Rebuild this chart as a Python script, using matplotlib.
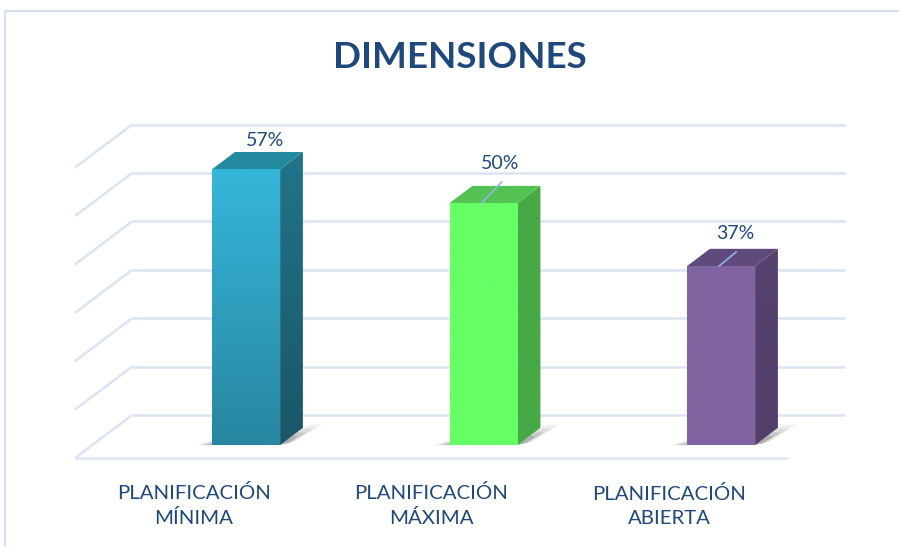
import numpy as np
import matplotlib
matplotlib.use("Agg")
import matplotlib.pyplot as plt
from matplotlib.patches import Polygon

# ---------------- data ----------------
categories = ["PLANIFICACIÓN\nMÍNIMA", "PLANIFICACIÓN\nMÁXIMA", "PLANIFICACIÓN\nABIERTA"]
values = [57, 50, 37]
value_labels = ["57%", "50%", "37%"]
title = "DIMENSIONES"
grid_values = [0, 10, 20, 30, 40, 50, 60]

# ---------------- style ----------------
front_top = ["#36B6DB", "#66FF66", "#8064A2"]
front_bot = ["#2886A0", "#66FF66", "#8064A2"]
side_top = ["#21748B", "#46A946", "#57426F"]
side_bot = ["#1A5666", "#46A946", "#523E69"]
top_col = ["#23899F", "#53C253", "#5F4A7C"]
text_col = "#1F497D"
grid_col = "#DAE4F3"
leader_col = "#8EB4E3"

plt.rcParams['font.family'] = ['Lato', 'DejaVu Sans']

W, H = 899, 547
fig = plt.figure(figsize=(W / 100, H / 100), dpi=100)
ax = fig.add_axes([0, 0, 1, 1])
ax.set_axis_off()

# scale: category units in x, percent units in y
PX_PER_CAT = 237.5
PX_PER_PCT = 4.84
X0_PX = 229.0      # pixel x of category 0 centre at depth 0
Y0_PX = 458.0      # pixel y (from top) of value 0 at depth 0
xlim = (-X0_PX / PX_PER_CAT, (W - X0_PX) / PX_PER_CAT)
ylim = (-(H - Y0_PX) / PX_PER_PCT, Y0_PX / PX_PER_PCT)

DX = 57 / PX_PER_CAT     # depth offset (full depth) in category units
DV = 43 / PX_PER_PCT     # depth offset (full depth) in percent units
BAR_W = 68 / PX_PER_CAT
D_FRONT, D_BACK = 0.3, 0.7
X_LEFT, X_RIGHT = -0.648, 2.354


def P(x, v, d):
    return (x + d * DX, v + d * DV)


def off(pt, dxp, dyp):
    """offset a data point by pixels (dy positive = up)"""
    return (pt[0] + dxp / PX_PER_CAT, pt[1] + dyp / PX_PER_PCT)


def px2data(px, py):
    return (xlim[0] + px / PX_PER_CAT, ylim[1] - py / PX_PER_PCT)


# border of chart area (light frame)
bx0, by0 = px2data(5, 11)
bx1, by1 = px2data(905, 560)
ax.plot([bx0, bx1], [by0, by0], color="#D6E1EF", lw=1.5, zorder=0.5)
ax.plot([bx0, bx0], [by0, by1], color="#D6E1EF", lw=1.5, zorder=0.5)

# gridlines: back wall + left wall diagonals
for g in grid_values:
    a = P(X_LEFT, g, 1)
    b = P(X_RIGHT, g, 1)
    ax.plot([a[0], b[0]], [a[1], b[1]], color=grid_col, lw=1.8, zorder=1,
            solid_capstyle='butt')
    c = P(X_LEFT, g, 0)
    ax.plot([c[0], a[0]], [c[1], a[1]], color=grid_col, lw=1.8, zorder=1,
            solid_capstyle='butt')
# front floor edge
a = P(X_LEFT, 0, 0)
b = P(X_RIGHT, 0, 0)
ax.plot([a[0], b[0]], [a[1], b[1]], color=grid_col, lw=1.8, zorder=1,
        solid_capstyle='butt')


def hex2rgb(h):
    return np.array(matplotlib.colors.to_rgb(h))


def gradient_poly(verts, ctop, cbot, z):
    poly = Polygon(verts, closed=True, facecolor='none', edgecolor='none', zorder=z)
    ax.add_patch(poly)
    ys = [p[1] for p in verts]
    xs = [p[0] for p in verts]
    n = 128
    t = np.linspace(0, 1, n)[:, None]
    img = (hex2rgb(ctop)[None, :] * (1 - t) + hex2rgb(cbot)[None, :] * t)[:, None, :]
    im = ax.imshow(img, extent=[min(xs), max(xs), min(ys), max(ys)],
                   aspect='auto', zorder=z, interpolation='bilinear', origin='upper')
    im.set_clip_path(poly)


for i, v in enumerate(values):
    c = i
    xl, xr = c - BAR_W / 2, c + BAR_W / 2
    R = P(xr, 0, D_FRONT)
    L = P(xl, 0, D_FRONT)
    # soft shadow (layered for blur)
    for k, (grow, al) in enumerate([(1.0, 0.06), (0.8, 0.08), (0.6, 0.10), (0.4, 0.12)]):
        sh = [off(R, -2, 0), off(R, 24 * grow + 4, 18 * grow + 2),
              off(R, 40 * grow + 2, 21 * grow), off(R, 14 * grow, 3 * grow)]
        ax.add_patch(Polygon(sh, closed=True, facecolor="#000000", alpha=al,
                             edgecolor='none', zorder=1.5))
        sh2 = [off(L, 2, 0), off(L, -14 * grow - 2, 0), off(L, 2, 6 * grow)]
        ax.add_patch(Polygon(sh2, closed=True, facecolor="#000000", alpha=al * 0.8,
                             edgecolor='none', zorder=1.5))
    front = [P(xl, 0, D_FRONT), P(xr, 0, D_FRONT), P(xr, v, D_FRONT), P(xl, v, D_FRONT)]
    side = [P(xr, 0, D_FRONT), P(xr, 0, D_BACK), P(xr, v, D_BACK), P(xr, v, D_FRONT)]
    top = [P(xl, v, D_FRONT), P(xr, v, D_FRONT), P(xr, v, D_BACK), P(xl, v, D_BACK)]
    gradient_poly(side, side_top[i], side_bot[i], 2)
    ax.add_patch(Polygon(top, closed=True, facecolor=top_col[i], edgecolor='none', zorder=2))
    gradient_poly(front, front_top[i], front_bot[i], 3)

# value labels with leader lines
lab_dx = [19, 17, 14]      # pixel offsets of label centre from bar front centre
lab_dy = [29, 40, 33]      # pixel offsets above bar front top
for i, v in enumerate(values):
    fx, fy = P(i, v, D_FRONT)
    tx = fx + lab_dx[i] / PX_PER_CAT
    ty = fy + lab_dy[i] / PX_PER_PCT
    ax.text(tx, ty, value_labels[i], ha='center', va='center', fontsize=14,
            color=text_col, zorder=5)
    if i > 0:
        ax.plot([tx + 1 / PX_PER_CAT, fx - 2 / PX_PER_CAT],
                [ty - 19 / PX_PER_PCT, fy], color=leader_col, lw=1.2, zorder=4)

# category labels
for i, lab in enumerate(categories):
    ax.text(i - 35 / PX_PER_CAT, -47.5 / PX_PER_PCT, lab, ha='center', va='center',
            fontsize=14.7, color=text_col, linespacing=1.5, zorder=5)

# title
tx, ty = px2data(460, 57)
ax.text(tx, ty, title, ha='center', va='center', fontsize=26.5, fontweight='bold',
        color=text_col)

ax.set_xlim(*xlim)
ax.set_ylim(*ylim)

fig.savefig("out.png", dpi=100, facecolor='white')
